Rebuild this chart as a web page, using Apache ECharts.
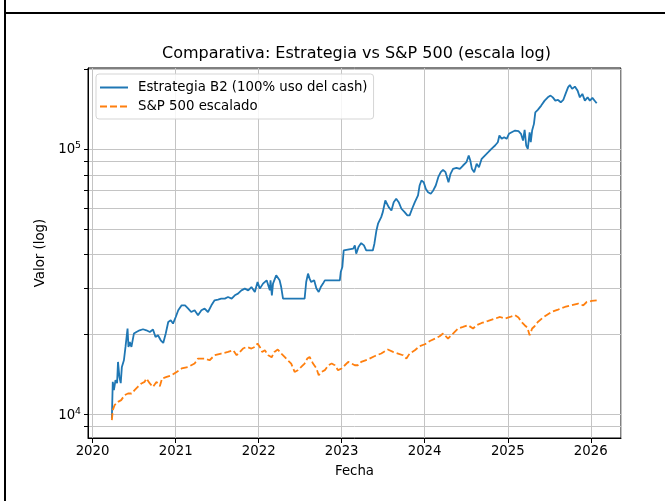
<!DOCTYPE html>
<html>
<head>
<meta charset="utf-8">
<script src="https://cdn.jsdelivr.net/npm/echarts@6/dist/echarts.min.js"></script>
<style>
  html, body { margin: 0; padding: 0; background: #fff; }
  #chart { width: 665px; height: 501px; }
</style>
</head>
<body>
<div id="chart"></div>
<script>
// Estrategia B2 (100% uso del cash)
const stratDates = [
  '2020-03-26', '2020-03-30', '2020-04-04', '2020-04-11', '2020-04-18', '2020-04-22', '2020-04-28', '2020-05-04',
  '2020-05-09', '2020-05-18', '2020-05-25', '2020-06-03', '2020-06-07', '2020-06-13', '2020-06-20', '2020-07-01',
  '2020-07-12', '2020-07-26', '2020-08-10', '2020-08-25', '2020-09-09', '2020-09-23', '2020-10-04', '2020-10-15',
  '2020-10-27', '2020-11-07', '2020-11-18', '2020-11-29', '2020-12-10', '2020-12-20', '2021-01-01', '2021-01-12',
  '2021-01-27', '2021-02-11', '2021-02-25', '2021-03-10', '2021-03-25', '2021-04-09', '2021-04-24', '2021-05-08',
  '2021-05-23', '2021-06-07', '2021-06-21', '2021-07-06', '2021-07-20', '2021-08-05', '2021-08-19', '2021-09-04',
  '2021-09-18', '2021-10-02', '2021-10-17', '2021-11-01', '2021-11-16', '2021-11-30', '2021-12-15', '2021-12-27',
  '2022-01-06', '2022-01-20', '2022-02-05', '2022-02-19', '2022-02-22', '2022-02-28', '2022-03-05', '2022-03-19',
  '2022-03-26', '2022-04-03', '2022-04-10', '2022-04-18', '2022-07-22', '2022-07-29', '2022-08-06', '2022-08-13',
  '2022-08-20', '2022-09-02', '2022-09-12', '2022-09-22', '2022-10-01', '2022-10-11', '2022-10-19', '2022-12-24',
  '2022-12-28', '2023-01-04', '2023-01-10', '2023-01-15', '2023-02-21', '2023-02-28', '2023-03-06', '2023-03-16',
  '2023-03-28', '2023-04-09', '2023-04-19', '2023-05-18', '2023-05-25', '2023-06-03', '2023-06-10', '2023-06-17',
  '2023-06-24', '2023-07-01', '2023-07-12', '2023-07-20', '2023-07-27', '2023-08-08', '2023-08-18', '2023-08-29',
  '2023-09-09', '2023-09-21', '2023-10-05', '2023-10-17', '2023-10-27', '2023-11-07', '2023-11-19', '2023-12-03',
  '2023-12-10', '2023-12-18', '2023-12-28', '2024-01-06', '2024-01-16', '2024-01-28', '2024-02-08', '2024-02-19',
  '2024-03-01', '2024-03-12', '2024-03-22', '2024-04-02', '2024-04-15', '2024-04-24', '2024-05-05', '2024-05-20',
  '2024-06-04', '2024-06-18', '2024-07-03', '2024-07-13', '2024-07-20', '2024-07-27', '2024-08-06', '2024-08-17',
  '2024-08-27', '2024-09-08', '2024-09-22', '2024-10-07', '2024-10-21', '2024-11-06', '2024-11-18', '2024-11-25',
  '2024-12-05', '2024-12-16', '2024-12-27', '2025-01-06', '2025-01-18', '2025-02-02', '2025-02-17', '2025-02-28',
  '2025-03-09', '2025-03-16', '2025-03-23', '2025-03-30', '2025-04-07', '2025-04-12', '2025-04-18', '2025-04-26',
  '2025-05-02', '2025-05-13', '2025-05-28', '2025-06-12', '2025-06-26', '2025-07-08', '2025-07-18', '2025-07-29',
  '2025-08-10', '2025-08-22', '2025-09-02', '2025-09-12', '2025-09-23', '2025-10-01', '2025-10-11', '2025-10-23',
  '2025-11-04', '2025-11-14', '2025-11-25', '2025-12-06', '2025-12-18', '2025-12-28', '2026-01-08', '2026-01-20',
  '2026-01-27'
]
const stratValues = [
  9660, 13270, 12340, 13460, 13120, 15770, 13850, 13120,
  15100, 16000, 17960, 21070, 17960, 18750, 17960, 20170,
  20450, 20750, 20940, 20750, 20450, 20890, 19570, 19870,
  19030, 18590, 20170, 22300, 22630, 22000, 23290, 24680,
  25770, 25770, 25050, 24320, 24680, 23640, 24680, 25050,
  24320, 25770, 26920, 27090, 27320, 27320, 27700, 27320,
  28110, 28520, 29350, 29790, 29350, 30200, 28920, 31540,
  29790, 31110, 32010, 29350, 32010, 28110, 31110, 33430,
  33920, 32010, 30200, 27320, 27320, 31540, 33920, 32480,
  31540, 32010, 29790, 28920, 30200, 31110, 32010, 32010,
  34390, 35910, 41490, 42110, 42110, 43330, 40330, 42710,
  44210, 43330, 41490, 41490, 43980, 49350, 52320, 51560,
  55390, 57840, 63990, 63050, 60390, 58690, 63050, 64940,
  63050, 59570, 57840, 56220, 56220, 59570, 63050, 66840,
  72890, 76120, 75010, 70840, 68780, 67840, 69830, 72890,
  78330, 81790, 83500, 81790, 75010, 80670, 84230, 84970,
  84230, 86680, 89190, 94520, 90520, 84230, 81790, 87990,
  85420, 91870, 94520, 97270, 100200, 103100, 106100, 112400,
  109300, 110800, 109300, 114100, 115700, 117400, 116700, 114100,
  107600, 118100, 103100, 100200, 115700, 106100, 117400, 124400,
  137500, 140400, 145800, 152200, 156600, 159000, 156600, 152200,
  153100, 150000, 153100, 161300, 170800, 174400, 168500, 171900,
  166000, 156600, 161300, 152200, 156600, 152200, 155800, 151300,
  148700
]

// S&P 500 escalado
const spDates = [
  '2020-03-26', '2020-03-30', '2020-04-07', '2020-04-22', '2020-05-06', '2020-05-21', '2020-06-05', '2020-06-20',
  '2020-07-04', '2020-07-18', '2020-08-03', '2020-08-17', '2020-08-25', '2020-09-09', '2020-09-23', '2020-10-08',
  '2020-10-23', '2020-11-02', '2020-11-22', '2020-12-14', '2021-01-05', '2021-01-27', '2021-02-25', '2021-03-25',
  '2021-04-09', '2021-05-08', '2021-05-30', '2021-06-21', '2021-07-20', '2021-08-19', '2021-09-11', '2021-09-26',
  '2021-10-10', '2021-10-24', '2021-11-09', '2021-11-30', '2021-12-15', '2021-12-27', '2022-01-06', '2022-01-16',
  '2022-01-28', '2022-02-12', '2022-02-27', '2022-03-11', '2022-03-26', '2022-04-10', '2022-04-25', '2022-05-09',
  '2022-05-24', '2022-06-08', '2022-06-22', '2022-07-07', '2022-07-22', '2022-08-03', '2022-08-13', '2022-08-28',
  '2022-09-12', '2022-09-22', '2022-10-04', '2022-10-19', '2022-11-03', '2022-11-18', '2022-12-02', '2022-12-16',
  '2023-01-01', '2023-01-15', '2023-01-30', '2023-02-14', '2023-02-28', '2023-03-13', '2023-03-28', '2023-04-26',
  '2023-05-25', '2023-06-24', '2023-07-23', '2023-08-15', '2023-09-06', '2023-09-28', '2023-10-13', '2023-10-27',
  '2023-11-19', '2023-12-10', '2024-01-02', '2024-01-24', '2024-02-16', '2024-03-07', '2024-03-22', '2024-04-13',
  '2024-05-05', '2024-05-27', '2024-06-18', '2024-07-10', '2024-08-01', '2024-08-17', '2024-09-08', '2024-10-07',
  '2024-11-06', '2024-11-28', '2024-12-19', '2025-01-11', '2025-02-02', '2025-02-17', '2025-03-02', '2025-03-16',
  '2025-03-28', '2025-04-07', '2025-04-18', '2025-04-29', '2025-05-13', '2025-06-05', '2025-07-12', '2025-08-10',
  '2025-09-09', '2025-10-08', '2025-11-07', '2025-11-29', '2025-12-14', '2026-01-05', '2026-01-27'
]
const spValues = [
  9520, 10380, 10840, 11150, 11320, 11820, 11990, 11990,
  12340, 12700, 13080, 13260, 13660, 13080, 12700, 13260,
  12780, 13660, 13850, 14050, 14460, 14900, 15100, 15550,
  16240, 16240, 16000, 16710, 16960, 17200, 17450, 16710,
  17200, 17710, 17960, 17710, 17960, 18500, 17960, 17200,
  17450, 16710, 16420, 17200, 17560, 16960, 16470, 16000,
  15550, 14460, 14680, 15100, 15550, 16240, 16470, 15550,
  14900, 14050, 14460, 14680, 15320, 15550, 15320, 14680,
  14900, 15320, 15770, 15550, 15320, 15320, 15770, 16100,
  16570, 16960, 17560, 17200, 16960, 16710, 16240, 16960,
  17450, 18070, 18380, 18910, 19310, 19700, 20170, 19310,
  20170, 21070, 21360, 21680, 21070, 21680, 22110, 22500,
  22970, 23290, 22970, 23290, 23640, 23170, 22300, 21680,
  21250, 19870, 21070, 21490, 22300, 23170, 24320, 24830,
  25400, 25770, 26160, 25770, 26520, 26760, 26920
]

const logMajorTicks = [10000, 100000]
const logAllTicks = [9000, 10000, 20000, 30000, 40000, 50000, 60000, 70000, 80000, 90000, 100000, 200000]

const FONT = 'DejaVu Sans'
const FS = 13.3
const YEAR_MS = 365 * 24 * 3600 * 1000
const pairs = (dates, values) => dates.map((d, i) => [d, values[i]])

const chart = echarts.init(document.getElementById('chart'), null, { renderer: 'canvas' })
chart.setOption({
  animation: false,
  backgroundColor: '#fff',
  textStyle: { fontFamily: FONT, color: '#000' },
  title: {
    text: 'Comparativa: Estrategia vs S&P 500 (escala log)',
    left: 162,
    top: 46,
    padding: 0,
    textStyle: { fontFamily: FONT, fontSize: 16, fontWeight: 'normal', color: '#000' }
  },
  grid: {
    left: 88,
    right: 44,
    top: 68,
    bottom: 63,
    show: true,
    borderColor: '#000',
    borderWidth: 1
  },
  legend: {
    orient: 'vertical',
    left: 96,
    top: 74,
    padding: [7, 6, 6, 3],
    itemWidth: 28,
    itemHeight: 13,
    itemGap: 6,
    backgroundColor: 'rgba(255,255,255,0.85)',
    borderColor: '#d5d5d5',
    borderWidth: 1,
    borderRadius: 3,
    itemStyle: { opacity: 0 },
    textStyle: { fontFamily: FONT, fontSize: FS, color: '#000', padding: [0, 0, 0, 5] },
    data: ['Estrategia B2 (100% uso del cash)', 'S&P 500 escalado']
  },
  xAxis: {
    type: 'time',
    min: '2019-12-12',
    max: '2026-05-14',
    minInterval: YEAR_MS,
    maxInterval: YEAR_MS + 2 * 24 * 3600 * 1000,
    name: 'Fecha',
    nameLocation: 'middle',
    nameGap: 27,
    nameTextStyle: { fontFamily: FONT, fontSize: FS, color: '#000' },
    axisLine: { show: true, lineStyle: { color: '#000', width: 1 } },
    axisTick: { show: true, length: 5, inside: false, lineStyle: { color: '#000' } },
    axisLabel: {
      margin: 7,
      fontFamily: FONT,
      fontSize: FS,
      color: '#000',
      showMinLabel: false,
      showMaxLabel: false,
      formatter: '{yyyy}'
    },
    splitLine: { show: true, lineStyle: { color: '#c4c4c4', width: 1 } }
  },
  yAxis: {
    type: 'log',
    logBase: 10,
    min: 8150,
    max: 202000,
    name: 'Valor (log)',
    nameLocation: 'middle',
    nameGap: 40,
    nameTextStyle: { fontFamily: FONT, fontSize: FS, color: '#000' },
    axisLine: { show: true, lineStyle: { color: '#000', width: 1 } },
    axisTick: { show: true, length: 4, inside: false, customValues: logAllTicks, lineStyle: { color: '#000' } },
    axisLabel: {
      customValues: logMajorTicks,
      margin: 7,
      fontFamily: FONT,
      color: '#000',
      formatter: v => '{b|10}{s|' + Math.round(Math.log10(v)) + '}',
      rich: {
        b: { fontFamily: FONT, fontSize: FS, color: '#000', verticalAlign: 'bottom', lineHeight: 15 },
        s: { fontFamily: FONT, fontSize: 9.3, color: '#000', verticalAlign: 'bottom', lineHeight: 15, padding: [0, 0, 6, 0] }
      }
    },
    splitLine: { show: true, lineStyle: { color: '#c4c4c4', width: 1 } }
  },
  series: [
    {
      name: 'Estrategia B2 (100% uso del cash)',
      type: 'line',
      symbol: 'none',
      data: pairs(stratDates, stratValues),
      lineStyle: { color: '#1f77b4', width: 1.8 },
      itemStyle: { color: '#1f77b4' },
      z: 3
    },
    {
      name: 'S&P 500 escalado',
      type: 'line',
      symbol: 'none',
      data: pairs(spDates, spValues),
      lineStyle: { color: '#ff7f0e', width: 1.8, type: [7, 3] },
      itemStyle: { color: '#ff7f0e' },
      z: 3
    }
  ],
  graphic: [
    { type: 'line', shape: { x1: 5, y1: 0, x2: 5, y2: 501 }, style: { stroke: '#000', lineWidth: 2 } },
    { type: 'line', shape: { x1: 5, y1: 13, x2: 665, y2: 13 }, style: { stroke: '#000', lineWidth: 2 } }
  ]
})
</script>
</body>
</html>
